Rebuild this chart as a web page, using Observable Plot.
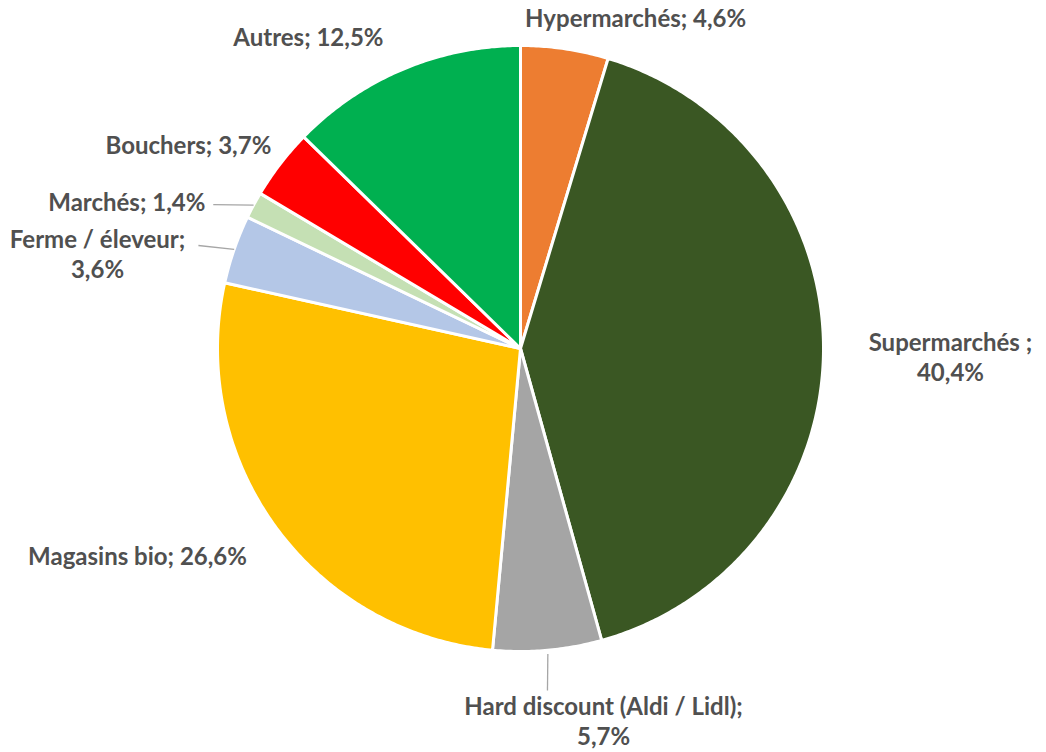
<!DOCTYPE html>
<html>
<head>
<meta charset="utf-8">
<script src="https://cdn.jsdelivr.net/npm/d3@7"></script>
<script src="https://cdn.jsdelivr.net/npm/@observablehq/plot@0.6"></script>
<style>
  html, body { margin: 0; padding: 0; background: #ffffff; }
  #chart svg { display: block; }
</style>
</head>
<body>
<div id="chart"></div>
<script>
// ---- data ----
const categories = ["Hypermarchés", "Supermarchés", "Hard discount (Aldi / Lidl)", "Magasins bio",
                    "Ferme / éleveur", "Marchés", "Bouchers", "Autres"];
const values = [4.6, 40.4, 5.7, 26.6, 3.6, 1.4, 3.7, 12.5];
const labelTexts = ["Hypermarchés; 4,6%", "Supermarchés ;\n40,4%", "Hard discount (Aldi / Lidl);\n5,7%",
                    "Magasins bio; 26,6%", "Ferme / éleveur;\n3,6%", "Marchés; 1,4%",
                    "Bouchers; 3,7%", "Autres; 12,5%"];
const colors = ["#ED7D31", "#3A5723", "#A5A5A5", "#FFC000", "#B4C7E7", "#C5E0B4", "#FF0000", "#00B050"];

// ---- layout (unit-circle coordinates: pie radius = 1) ----
const W = 1046, H = 752, CX = 520, CY = 348, R = 303;
const labelLayout = {
  "Hypermarchés": {x: 0.380, y: 1.092, anchor: "middle"},
  "Supermarchés": {x: 1.419, y: -0.026, anchor: "middle"},
  "Hard discount (Aldi / Lidl)": {x: 0.274, y: -1.228, anchor: "middle"},
  "Magasins bio": {x: -1.264, y: -0.683, anchor: "middle"},
  "Ferme / éleveur": {x: -1.396, y: 0.314, anchor: "middle"},
  "Marchés": {x: -1.040, y: 0.485, anchor: "end"},
  "Bouchers": {x: -1.096, y: 0.673, anchor: "middle"},
  "Autres": {x: -0.700, y: 1.030, anchor: "middle"}
};
// leader lines: slice edge -> point near label
const leaderEnds = {
  "Marchés": {x: -1.014, y: 0.475, r0: 1.0},
  "Ferme / éleveur": {x: -1.063, y: 0.340, r0: 1.0},
  "Hard discount (Aldi / Lidl)": {x: 0.089, y: -1.129, r0: 1.012}
};

// ---- build slices from data ----
const rows = categories.map((c, i) => ({cat: c, value: values[i], label: labelTexts[i]}));
const arcs = d3.pie().sort(null).value(d => d.value)(rows);

const slicePts = [];
for (const a of arcs) {
  const n = Math.max(2, Math.ceil((a.endAngle - a.startAngle) / (Math.PI / 360)));
  slicePts.push({cat: a.data.cat, x: 0, y: 0});
  for (let k = 0; k <= n; k++) {
    const t = a.startAngle + (a.endAngle - a.startAngle) * k / n;
    slicePts.push({cat: a.data.cat, x: Math.sin(t), y: Math.cos(t)});
  }
  slicePts.push({cat: a.data.cat, x: 0, y: 0});
}

const leaders = arcs.filter(a => leaderEnds[a.data.cat]).map(a => {
  const m = (a.startAngle + a.endAngle) / 2;
  const e = leaderEnds[a.data.cat];
  return {x1: e.r0 * Math.sin(m), y1: e.r0 * Math.cos(m), x2: e.x, y2: e.y};
});

const labels = rows.map(r => ({...labelLayout[r.cat], text: r.label}));
const textStyle = {
  x: "x", y: "y", text: "text",
  fontFamily: "Lato, 'Open Sans', sans-serif",
  fontWeight: 700,
  fontSize: 24,
  lineHeight: 1.25,
  fill: "#505050"
};

const chart = Plot.plot({
  width: W,
  height: H,
  margin: 0,
  x: {domain: [-CX / R, (W - CX) / R], range: [0, W], axis: null},
  y: {domain: [-(H - CY) / R, CY / R], range: [H, 0], axis: null},
  color: {domain: categories, range: colors},
  style: {background: "#ffffff"},
  marks: [
    Plot.line(slicePts, {x: "x", y: "y", z: "cat", fill: "cat", stroke: "#ffffff",
                         strokeWidth: 3, strokeLinejoin: "round", curve: "linear"}),
    Plot.link(leaders, {x1: "x1", y1: "y1", x2: "x2", y2: "y2", stroke: "#A6A6A6", strokeWidth: 1.3}),
    Plot.text(labels.filter(d => d.anchor === "middle"), {...textStyle, textAnchor: "middle"}),
    Plot.text(labels.filter(d => d.anchor === "end"), {...textStyle, textAnchor: "end"})
  ]
});
document.getElementById("chart").appendChild(chart);
</script>
</body>
</html>
